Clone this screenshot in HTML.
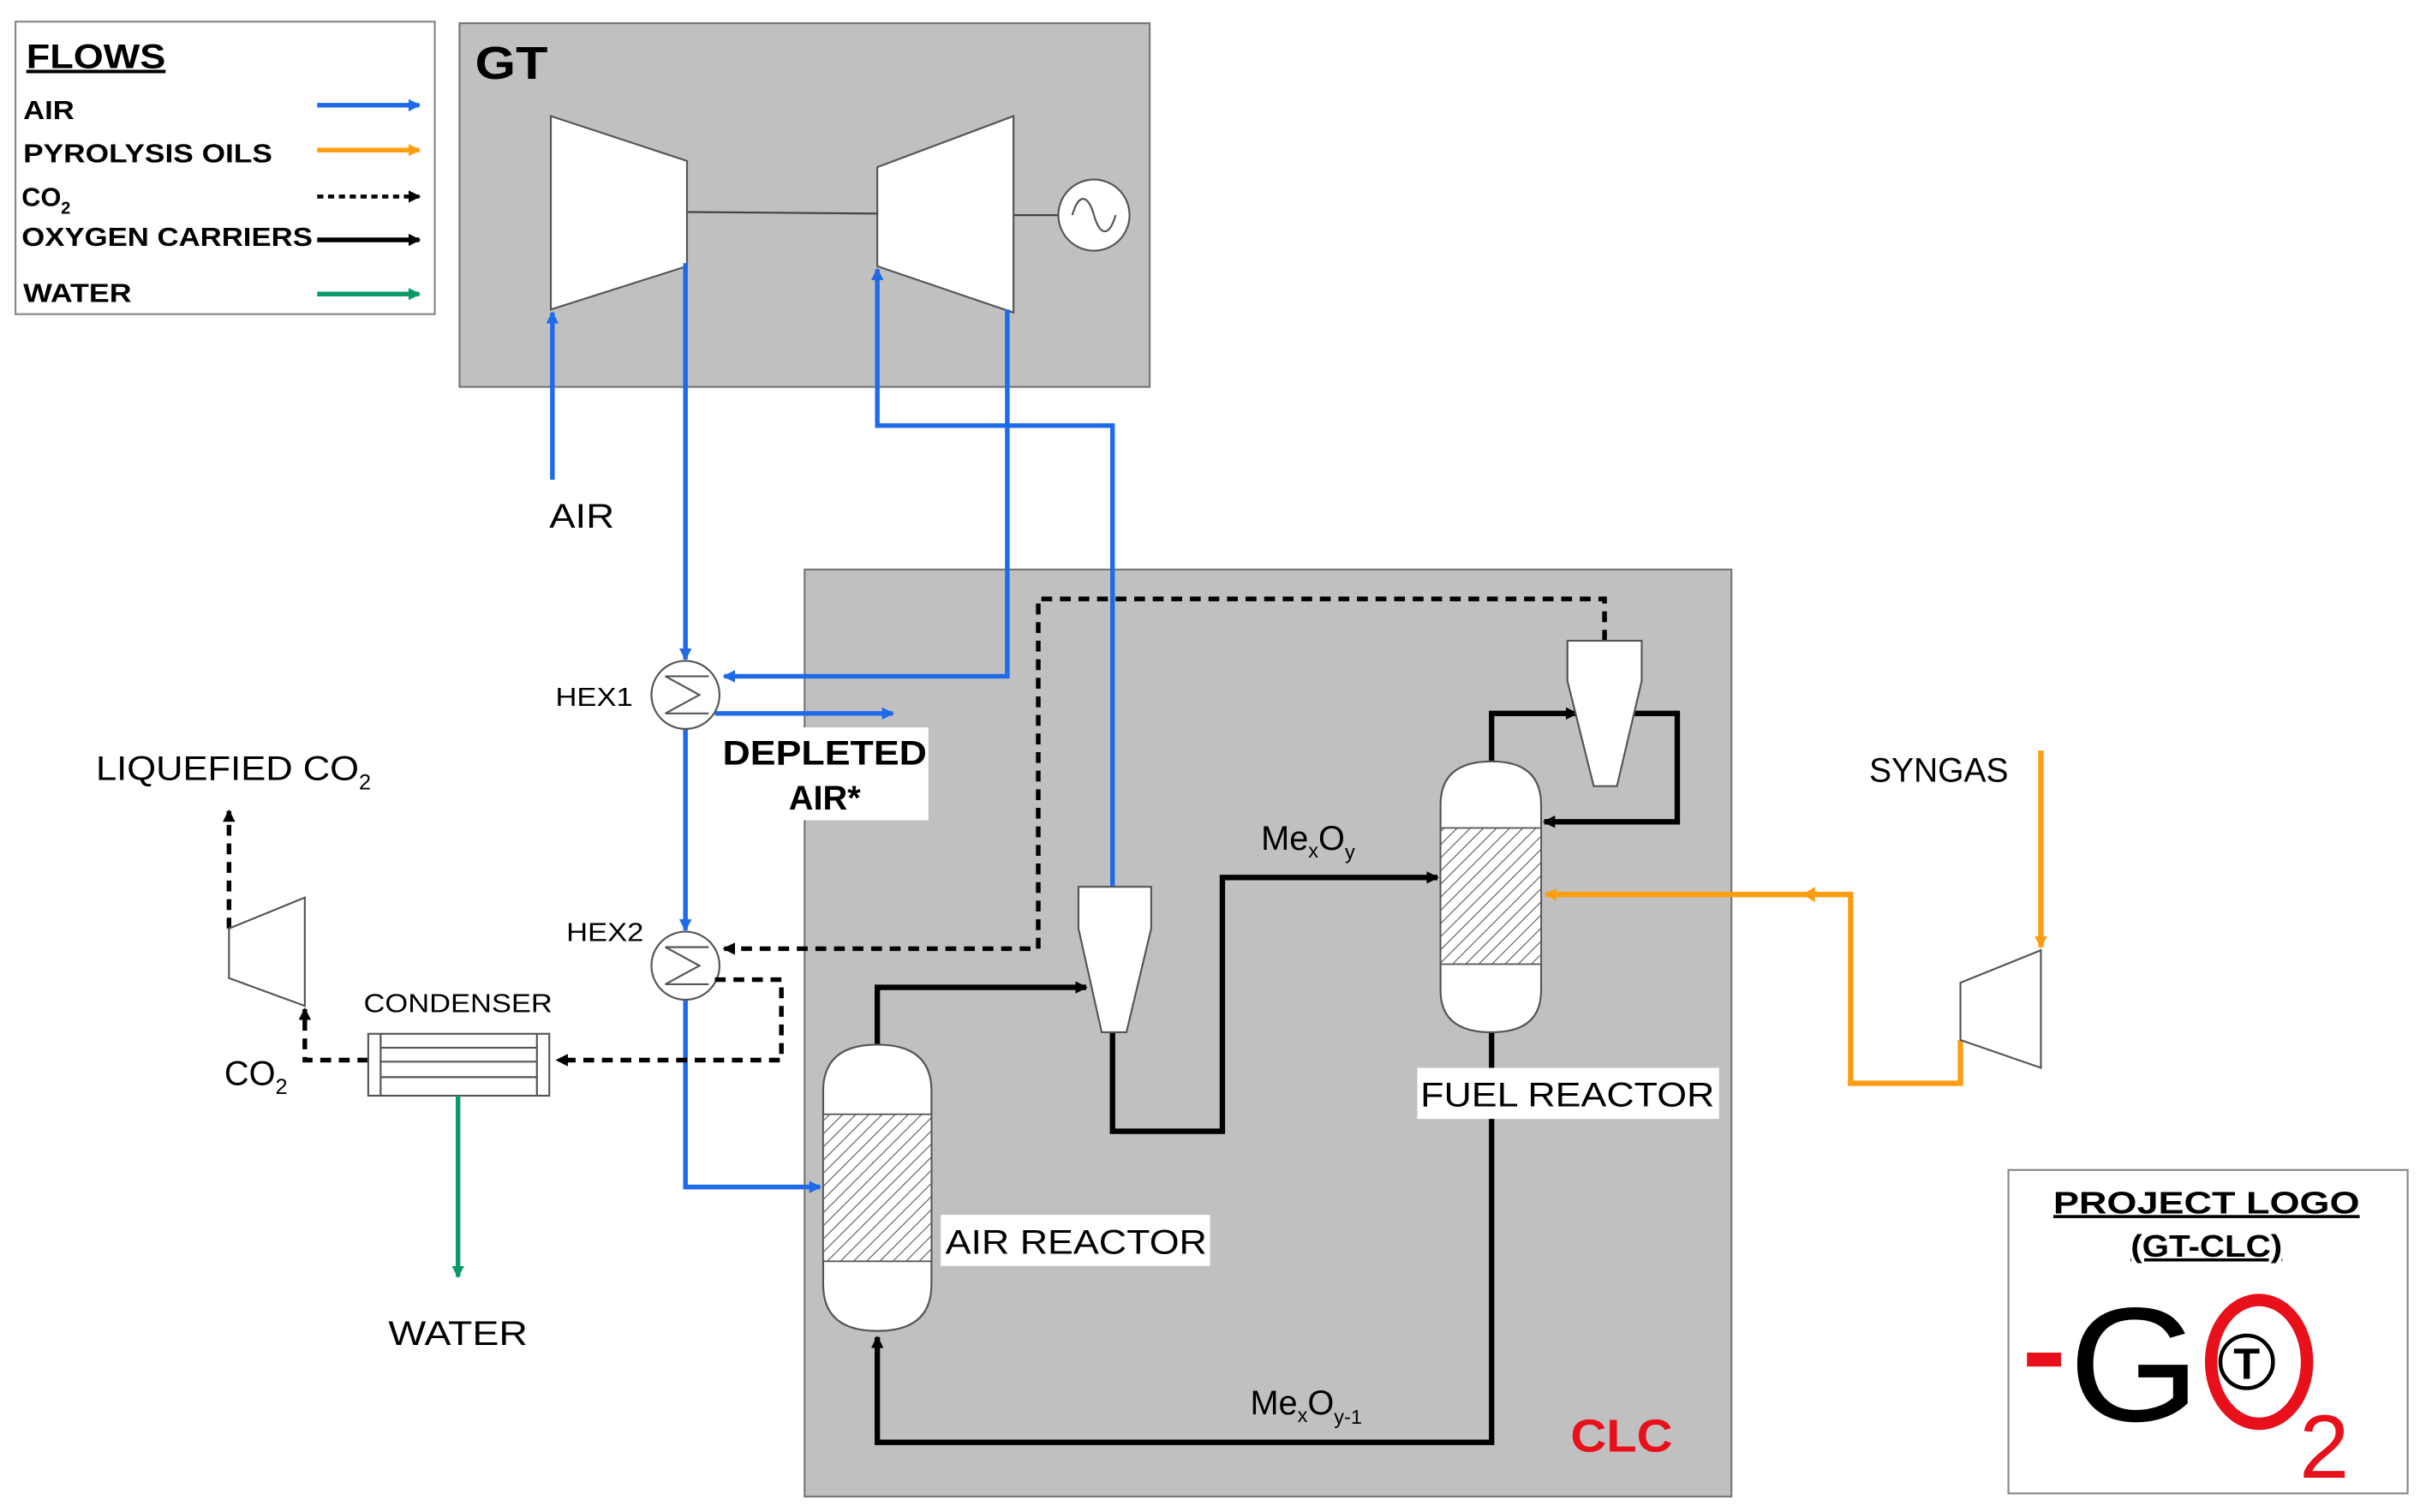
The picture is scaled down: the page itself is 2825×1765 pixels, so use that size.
<!DOCTYPE html>
<html><head><meta charset="utf-8"><style>html,body{margin:0;padding:0;background:#fff}svg{display:block}</style></head>
<body>
<svg width="2825" height="1765" viewBox="0 0 1564 977" preserveAspectRatio="none" xmlns="http://www.w3.org/2000/svg" font-family="Liberation Sans, Arial, sans-serif">
<defs>
<marker id="ab" markerWidth="8" markerHeight="8" refX="7" refY="4" orient="auto" markerUnits="userSpaceOnUse"><path d="M0,0L8,4L0,8z" fill="#1f6ae8"/></marker>
<marker id="ak" markerWidth="8" markerHeight="8" refX="7" refY="4" orient="auto" markerUnits="userSpaceOnUse"><path d="M0,0L8,4L0,8z" fill="#000"/></marker>
<marker id="ao" markerWidth="8" markerHeight="8" refX="7" refY="4" orient="auto" markerUnits="userSpaceOnUse"><path d="M0,0L8,4L0,8z" fill="#ff9d10"/></marker>
<marker id="ag" markerWidth="8" markerHeight="8" refX="7" refY="4" orient="auto" markerUnits="userSpaceOnUse"><path d="M0,0L8,4L0,8z" fill="#0a9a6a"/></marker>
<pattern id="h" width="6" height="6" patternUnits="userSpaceOnUse" patternTransform="rotate(45)"><rect width="6" height="6" fill="#fff"/><line x1="0" y1="0" x2="0" y2="6" stroke="#555" stroke-width="1.2"/></pattern>
</defs>
<!-- legend -->
<rect x="10" y="14" width="271" height="189" fill="#fff" stroke="#888" stroke-width="1.2"/>
<text x="17" y="44" font-size="22" font-weight="bold" text-decoration="underline" textLength="90" lengthAdjust="spacingAndGlyphs">FLOWS</text>
<g font-size="17" font-weight="bold">
<text x="15" y="77" textLength="33" lengthAdjust="spacingAndGlyphs">AIR</text>
<text x="15" y="105" textLength="161" lengthAdjust="spacingAndGlyphs">PYROLYSIS OILS</text>
<text x="14" y="133">CO<tspan font-size="11" dy="5">2</tspan></text>
<text x="14" y="159" textLength="188" lengthAdjust="spacingAndGlyphs">OXYGEN CARRIERS</text>
<text x="15" y="195" textLength="70" lengthAdjust="spacingAndGlyphs">WATER</text>
</g>
<line x1="205" y1="68" x2="271" y2="68" stroke="#1f6ae8" stroke-width="3" marker-end="url(#ab)"/>
<line x1="205" y1="97" x2="271" y2="97" stroke="#ff9d10" stroke-width="3" marker-end="url(#ao)"/>
<line x1="205" y1="127" x2="271" y2="127" stroke="#000" stroke-width="2.5" stroke-dasharray="4,3" marker-end="url(#ak)"/>
<line x1="205" y1="155" x2="271" y2="155" stroke="#000" stroke-width="3" marker-end="url(#ak)"/>
<line x1="205" y1="190" x2="271" y2="190" stroke="#0a9a6a" stroke-width="3" marker-end="url(#ag)"/>
<!-- GT -->
<rect x="297" y="15" width="446" height="235" fill="#c0c0c0" stroke="#777" stroke-width="1.2"/>
<text x="307" y="51" font-size="30" font-weight="bold" textLength="47" lengthAdjust="spacingAndGlyphs">GT</text>
<line x1="444" y1="137" x2="567" y2="138" stroke="#444" stroke-width="1.2"/>
<line x1="655" y1="139" x2="684" y2="139" stroke="#444" stroke-width="1.2"/>
<polygon points="356,75 444,104 444,172 356,200" fill="#fff" stroke="#555" stroke-width="1.2"/>
<polygon points="567,108 655,75 655,202 567,172" fill="#fff" stroke="#555" stroke-width="1.2"/>
<circle cx="707" cy="139" r="23" fill="#fff" stroke="#555" stroke-width="1.2"/>
<path d="M693,139 C697,125 703,125 707,139 C711,153 717,153 721,139" fill="none" stroke="#555" stroke-width="1.2"/>
<!-- CLC box -->
<rect x="520" y="368" width="599" height="599" fill="#c0c0c0" stroke="#777" stroke-width="1.2"/>
<text x="1015" y="938" font-size="30" font-weight="bold" fill="#e8101a" textLength="66" lengthAdjust="spacingAndGlyphs">CLC</text>
<!-- blue lines -->
<g fill="none" stroke="#1f6ae8" stroke-width="3">
<polyline points="357,310 357,202" marker-end="url(#ab)"/>
<polyline points="443,170 443,426" marker-end="url(#ab)"/>
<polyline points="719,573 719,275 567,275 567,174" marker-end="url(#ab)"/>
<polyline points="651,200 651,437 468,437" marker-end="url(#ab)"/>
<polyline points="462,461 577,461" marker-end="url(#ab)"/>
<polyline points="443,471 443,601" marker-end="url(#ab)"/>
<polyline points="443,646 443,767 530,767" marker-end="url(#ab)"/>
</g>
<text x="355" y="341" font-size="22" textLength="42" lengthAdjust="spacingAndGlyphs">AIR</text>
<rect x="460" y="470" width="140" height="60" fill="#fff"/>
<text x="533" y="494" font-size="22" font-weight="bold" text-anchor="middle" textLength="132" lengthAdjust="spacingAndGlyphs">DEPLETED</text>
<text x="533" y="523" font-size="22" font-weight="bold" text-anchor="middle">AIR*</text>
<!-- HEX -->
<g fill="#fff" stroke="#555" stroke-width="1.2">
<circle cx="443" cy="449" r="22"/>
<circle cx="443" cy="624" r="22"/>
</g>
<polyline points="458,437 430,437 452,449 430,461 458,461" fill="none" stroke="#555" stroke-width="1.2"/>
<polyline points="458,612 430,612 452,624 430,636 458,636" fill="none" stroke="#555" stroke-width="1.2"/>
<text x="359" y="456" font-size="17" textLength="50" lengthAdjust="spacingAndGlyphs">HEX1</text>
<text x="366" y="608" font-size="17" textLength="50" lengthAdjust="spacingAndGlyphs">HEX2</text>
<!-- CO2 dashed -->
<g fill="none" stroke="#000" stroke-width="3" stroke-dasharray="7,5">
<polyline points="1037,414 1037,387 671,387 671,613 468,613" marker-end="url(#ak)"/>
<polyline points="462,633 505,633 505,685 360,685" marker-end="url(#ak)"/>
<polyline points="238,685 197,685 197,652" marker-end="url(#ak)"/>
<polyline points="148,600 148,524" marker-end="url(#ak)"/>
</g>
<!-- condenser -->
<rect x="238" y="668" width="117" height="40" fill="#fff" stroke="#555" stroke-width="1.2"/>
<g stroke="#555" stroke-width="1.2"><line x1="246" y1="668" x2="246" y2="708"/><line x1="347" y1="668" x2="347" y2="708"/><line x1="246" y1="677" x2="347" y2="677"/><line x1="246" y1="686" x2="347" y2="686"/><line x1="246" y1="696" x2="347" y2="696"/></g>
<text x="296" y="654" font-size="17" text-anchor="middle" textLength="122" lengthAdjust="spacingAndGlyphs">CONDENSER</text>
<polygon points="148,600 197,580 197,650 148,632" fill="#fff" stroke="#555" stroke-width="1.2"/>
<text x="62" y="504" font-size="22"><tspan textLength="170" lengthAdjust="spacingAndGlyphs">LIQUEFIED CO</tspan><tspan font-size="14" dy="6">2</tspan></text>
<text x="145" y="701" font-size="22">CO<tspan font-size="14" dy="6">2</tspan></text>
<line x1="296" y1="708" x2="296" y2="825" stroke="#0a9a6a" stroke-width="3" marker-end="url(#ag)"/>
<text x="296" y="869" font-size="22" text-anchor="middle" textLength="90" lengthAdjust="spacingAndGlyphs">WATER</text>
<!-- black carriers -->
<g fill="none" stroke="#000" stroke-width="3.5">
<polyline points="567,675 567,638 702,638" marker-end="url(#ak)"/>
<polyline points="719,665 719,731 790,731 790,567 929,567" marker-end="url(#ak)"/>
<polyline points="964,494 964,461 1019,461" marker-end="url(#ak)"/>
<polyline points="1055,461 1084,461 1084,531 998,531" marker-end="url(#ak)"/>
<polyline points="964,665 964,932 567,932 567,864" marker-end="url(#ak)"/>
</g>
<!-- reactors -->
<path d="M532,705 Q532,675 567,675 Q602,675 602,705 L602,830 Q602,860 567,860 Q532,860 532,830 Z" fill="#fff" stroke="#555" stroke-width="1.2"/>
<rect x="532" y="720" width="70" height="95" fill="url(#h)" stroke="#555" stroke-width="1"/>
<path d="M931,520 Q931,492 964,492 Q996,492 996,520 L996,640 Q996,667 964,667 Q931,667 931,640 Z" fill="#fff" stroke="#555" stroke-width="1.2"/>
<rect x="931" y="535" width="65" height="88" fill="url(#h)" stroke="#555" stroke-width="1"/>
<polygon points="697,573 744,573 744,600 728,667 712,667 697,600" fill="#fff" stroke="#555" stroke-width="1.2"/>
<polygon points="1013,414 1061,414 1061,440 1045,508 1030,508 1013,440" fill="#fff" stroke="#555" stroke-width="1.2"/>
<rect x="608" y="785" width="174" height="33" fill="#fff"/>
<text x="611" y="810" font-size="22" textLength="169" lengthAdjust="spacingAndGlyphs">AIR REACTOR</text>
<rect x="916" y="690" width="195" height="33" fill="#fff"/>
<text x="918" y="715" font-size="22" textLength="190" lengthAdjust="spacingAndGlyphs">FUEL REACTOR</text>
<text x="815" y="549" font-size="22">Me<tspan font-size="13" dy="5">x</tspan><tspan dy="-5">O</tspan><tspan font-size="13" dy="6">y</tspan></text>
<text x="808" y="914" font-size="22">Me<tspan font-size="13" dy="5">x</tspan><tspan dy="-5">O</tspan><tspan font-size="13" dy="6">y-1</tspan></text>
<!-- orange -->
<g fill="none" stroke="#ff9d10" stroke-width="3.5">
<polyline points="1319,485 1319,612" marker-end="url(#ao)"/>
<polyline points="1267,672 1267,700 1196,700 1196,578 999,578" marker-end="url(#ao)"/>
</g>
<path d="M1165,578 L1173,573 L1173,583 Z" fill="#ff9d10"/>
<polygon points="1267,635 1319,614 1319,690 1267,672" fill="#fff" stroke="#555" stroke-width="1.2"/>
<text x="1208" y="505" font-size="22" textLength="90" lengthAdjust="spacingAndGlyphs">SYNGAS</text>
<!-- logo -->
<rect x="1298" y="756" width="258" height="209" fill="#fff" stroke="#888" stroke-width="1.2"/>
<text x="1426" y="784" font-size="20" font-weight="bold" text-anchor="middle" text-decoration="underline" textLength="198" lengthAdjust="spacingAndGlyphs">PROJECT LOGO</text>
<text x="1426" y="812" font-size="20" font-weight="bold" text-anchor="middle" text-decoration="underline" textLength="98" lengthAdjust="spacingAndGlyphs">(GT-CLC)</text>
<rect x="1310" y="874" width="22" height="9" fill="#e8101a"/>
<text x="1337" y="918" font-size="105" fill="#000" textLength="85" lengthAdjust="spacingAndGlyphs">G</text>
<ellipse cx="1460" cy="880" rx="31" ry="40" fill="none" stroke="#e8101a" stroke-width="8"/>
<circle cx="1452" cy="880" r="17" fill="#fff" stroke="#000" stroke-width="2.5"/>
<text x="1452" y="891" font-size="28" font-weight="bold" text-anchor="middle">T</text>
<text x="1486" y="955" font-size="58" fill="#e8101a">2</text>
</svg>
</body></html>
